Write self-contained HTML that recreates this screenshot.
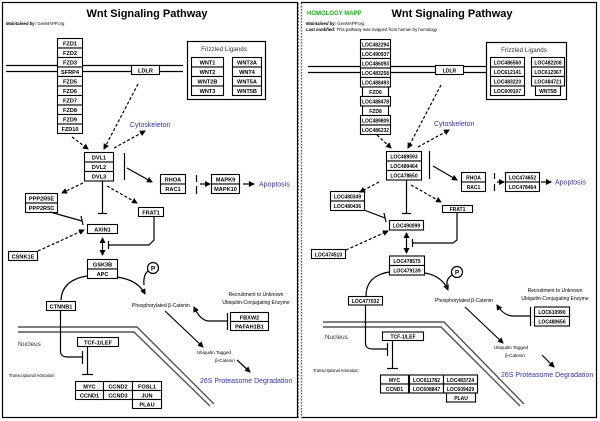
<!DOCTYPE html>
<html><head><meta charset="utf-8"><style>
html,body{margin:0;padding:0;background:#fff;}
svg{display:block;font-family:"Liberation Sans",sans-serif;}
.b rect{fill:#fff;stroke:#000;stroke-width:1.1;}
.b text{font-size:5.6px;font-weight:bold;text-anchor:middle;}
.r text{font-size:5px;}
.s{font-size:5px;}
.blue{fill:#3333aa;font-size:7px;}
.ln{stroke:#000;stroke-width:1.2;fill:none;}
.dl{stroke:#000;stroke-width:1.2;fill:none;stroke-dasharray:3,2;}
.mem{stroke:#000;stroke-width:1.2;}
.nuc{stroke:#555;stroke-width:1.4;fill:none;}
</style></head><body>
<svg width="600" height="421" viewBox="0 0 600 421" xmlns="http://www.w3.org/2000/svg">
<defs>
<marker id="a" markerWidth="6" markerHeight="6" refX="5" refY="3" orient="auto" markerUnits="userSpaceOnUse"><path d="M0,0 L6,3 L0,6 z" fill="#000"/></marker>
<marker id="a2" markerWidth="6" markerHeight="6" refX="1" refY="3" orient="auto" markerUnits="userSpaceOnUse"><path d="M6,0 L0,3 L6,6 z" fill="#000"/></marker>
</defs>
<rect x="0" y="0" width="600" height="421" fill="#fff"/>
<rect x="2.5" y="2.5" width="295" height="415" fill="none" stroke="#000" stroke-width="1.2"/>
<rect x="301.5" y="2.5" width="295" height="415" fill="none" stroke="#000" stroke-width="1.2"/>
<line x1="298" y1="3" x2="298" y2="418" stroke="#000" stroke-dasharray="2,1.5"/>
<line x1="301.5" y1="3" x2="301.5" y2="418" stroke="#fff" stroke-width="1.2"/>
<line x1="301.5" y1="3" x2="301.5" y2="418" stroke="#555" stroke-dasharray="1.5,1.5"/>

<!-- ================= LEFT ================= -->
<text x="147" y="17" font-size="11" font-weight="bold" text-anchor="middle">Wnt Signaling Pathway</text>
<text x="6" y="25" font-size="4.3"><tspan font-weight="bold" font-style="italic">Maintained by:</tspan> GenMAPP.org</text>
<line class="mem" x1="6" y1="65.5" x2="183" y2="65.5"/><line class="mem" x1="6" y1="71.5" x2="183" y2="71.5"/>
<g class="b">
<rect x="57.5" y="38.5" width="25" height="9.5"/><text x="70" y="45.5">FZD1</text>
<rect x="57.5" y="48" width="25" height="9.5"/><text x="70" y="55">FZD2</text>
<rect x="57.5" y="57.5" width="25" height="9.5"/><text x="70" y="64.5">FZD3</text>
<rect x="57.5" y="67" width="25" height="9.5"/><text x="70" y="74">SFRP4</text>
<rect x="57.5" y="76.5" width="25" height="9.5"/><text x="70" y="83.5">FZD5</text>
<rect x="57.5" y="86" width="25" height="9.5"/><text x="70" y="93">FZD6</text>
<rect x="57.5" y="95.5" width="25" height="9.5"/><text x="70" y="102.5">FZD7</text>
<rect x="57.5" y="105" width="25" height="9.5"/><text x="70" y="112">FZD8</text>
<rect x="57.5" y="114.5" width="25" height="9.5"/><text x="70" y="121.5">FZD9</text>
<rect x="57.5" y="124" width="25" height="9.5"/><text x="70" y="131">FZD10</text>
<rect x="131.5" y="65.5" width="28" height="9"/><text x="145.5" y="72.3">LDLR</text>
</g>
<rect x="187.5" y="41.5" width="78" height="58" fill="#fff" stroke="#000" stroke-width="1.2"/>
<text x="224" y="51" font-size="6.3" text-anchor="middle" fill="#333">Frizzled Ligands</text>
<g class="b">
<rect x="191.5" y="57.5" width="32" height="9.5"/><text x="207.5" y="64.5">WNT1</text>
<rect x="191.5" y="67" width="32" height="9.5"/><text x="207.5" y="74">WNT2</text>
<rect x="191.5" y="76.5" width="32" height="9.5"/><text x="207.5" y="83.5">WNT2B</text>
<rect x="191.5" y="86" width="32" height="9.5"/><text x="207.5" y="93">WNT3</text>
<rect x="232.5" y="57.5" width="29" height="9.5"/><text x="247" y="64.5">WNT3A</text>
<rect x="232.5" y="67" width="29" height="9.5"/><text x="247" y="74">WNT4</text>
<rect x="232.5" y="76.5" width="29" height="9.5"/><text x="247" y="83.5">WNT5A</text>
<rect x="232.5" y="86" width="29" height="9.5"/><text x="247" y="93">WNT5B</text>
</g>
<text x="130" y="127" class="blue">Cytoskeleton</text>
<line class="dl" x1="72" y1="137" x2="88" y2="149" marker-end="url(#a)"/>
<line class="dl" x1="138" y1="84" x2="104" y2="149" marker-end="url(#a)"/>
<line class="dl" x1="114" y1="148" x2="145" y2="131" marker-end="url(#a)"/>
<g class="b">
<rect x="84.5" y="152.5" width="29" height="9.5"/><text x="99" y="159.5">DVL1</text>
<rect x="84.5" y="162" width="29" height="9.5"/><text x="99" y="169">DVL2</text>
<rect x="84.5" y="171.5" width="29" height="9.5"/><text x="99" y="178.5">DVL3</text>
</g>
<line class="ln" x1="124.5" y1="153" x2="124.5" y2="180"/>
<line class="ln" x1="127" y1="168" x2="152" y2="182" marker-end="url(#a)"/>
<g class="b">
<rect x="160.5" y="174.5" width="25" height="9.5"/><text x="173" y="181.5">RHOA</text>
<rect x="160.5" y="184" width="25" height="9.5"/><text x="173" y="191">RAC1</text>
<rect x="211.5" y="174.5" width="28" height="9.5"/><text x="225.5" y="181.5">MAPK9</text>
<rect x="211.5" y="184" width="28" height="9.5"/><text x="225.5" y="191">MAPK10</text>
</g>
<line class="ln" x1="196.5" y1="175" x2="196.5" y2="182"/><line class="ln" x1="196.5" y1="186" x2="196.5" y2="194"/>
<line class="ln" x1="200" y1="184" x2="210" y2="184" marker-end="url(#a)"/>
<line class="ln" x1="243" y1="184" x2="254" y2="184" marker-end="url(#a)"/>
<text x="259" y="186.5" class="blue">Apoptosis</text>
<g class="b">
<rect x="25.5" y="193.5" width="32" height="9.5"/><text x="41.5" y="200.5">PPP2R5E</text>
<rect x="25.5" y="203" width="32" height="9.5"/><text x="41.5" y="210">PPP2R5C</text>
<rect x="138.5" y="207.5" width="25" height="9"/><text x="151" y="214.3">FRAT1</text>
<rect x="87.5" y="224.5" width="30" height="9"/><text x="102.5" y="231.3">AXIN1</text>
<rect x="8.5" y="251.5" width="29" height="9"/><text x="23" y="258.3">CSNK1E</text>
<rect x="87.5" y="259.5" width="30" height="9.5"/><text x="102.5" y="266.5">GSK3B</text>
<rect x="87.5" y="269" width="30" height="9.5"/><text x="102.5" y="276">APC</text>
<rect x="46.5" y="301.5" width="29" height="9"/><text x="61" y="308.3">CTNNB1</text>
<rect x="230.5" y="312.5" width="38" height="9"/><text x="249.5" y="319.3">FBXW2</text>
<rect x="230.5" y="321.5" width="38" height="9"/><text x="249.5" y="328.3">PAFAH1B1</text>
<rect x="77.5" y="337.5" width="41" height="9"/><text x="98" y="344.3">TCF-1/LEF</text>
</g>
<line class="dl" x1="83" y1="183" x2="62" y2="193" marker-end="url(#a)"/>
<line class="ln" x1="102.5" y1="181" x2="102.5" y2="213"/><line class="ln" x1="98" y1="213.5" x2="107" y2="213.5"/>
<line class="dl" x1="107" y1="186" x2="137" y2="203" marker-end="url(#a)"/>
<line class="ln" x1="50" y1="212" x2="82" y2="221"/><line class="ln" x1="81" y1="216" x2="83" y2="225"/>
<path class="ln" d="M154,217 V240 L149,245 H108"/><line class="ln" x1="108.5" y1="241" x2="108.5" y2="249"/>
<line class="dl" x1="38" y1="251" x2="84" y2="230" marker-end="url(#a)"/>
<line class="ln" x1="102.5" y1="238" x2="102.5" y2="255" marker-start="url(#a2)" marker-end="url(#a)"/>
<path class="ln" d="M87,276 Q62,280 61,300"/>
<path class="ln" d="M117,277 Q138,280 145,294" marker-end="url(#a)"/>
<circle cx="153" cy="268" r="5.5" fill="#fff" stroke="#000" stroke-width="1.2"/><text x="153" y="270.5" font-size="6.5" font-weight="bold" text-anchor="middle">P</text>
<path class="ln" d="M148,271 Q143,275 144,285"/>
<text x="132" y="307" class="s">Phosphorylated β-Catenin</text>
<text x="256" y="296" class="s" text-anchor="middle">Recruitment to Unknown</text>
<text x="256" y="304" class="s" text-anchor="middle">Ubiquitin-Conjugating Enzyme</text>
<line class="ln" x1="227.5" y1="313" x2="227.5" y2="330"/>
<path class="ln" d="M227,321 H208 Q200,320 194,307" marker-end="url(#a)"/>
<line class="ln" x1="165" y1="311" x2="203" y2="347" marker-end="url(#a)"/>
<text x="214" y="354" font-size="4.6" text-anchor="middle">Ubiquitin Tagged</text>
<text x="225" y="362" font-size="4.6" text-anchor="middle">β-Catenin</text>
<line class="ln" x1="237" y1="360" x2="250" y2="372" marker-end="url(#a)"/>
<text x="200" y="383" class="blue">26S Proteasome Degradation</text>
<path class="nuc" d="M18,327 H137 L214,404"/>
<path class="nuc" d="M18,332 H134 L210,406"/>
<text x="18" y="346" font-size="6.3" fill="#333">Nucleus</text>
<path class="ln" d="M60.5,311 V352 Q61,357 68,357 H82"/><line class="ln" x1="82.5" y1="351" x2="82.5" y2="364"/>
<line class="ln" x1="87.5" y1="347" x2="87.5" y2="374"/><line class="ln" x1="82" y1="374.5" x2="93" y2="374.5"/>
<text x="9" y="377" font-size="4.1">Transcriptional Activation</text>
<g class="b">
<rect x="75.5" y="381.5" width="28" height="9"/><text x="89.5" y="388.3">MYC</text>
<rect x="75.5" y="390.5" width="28" height="9"/><text x="89.5" y="397.3">CCND1</text>
<rect x="103.5" y="381.5" width="29" height="9"/><text x="118" y="388.3">CCND2</text>
<rect x="103.5" y="390.5" width="29" height="9"/><text x="118" y="397.3">CCND3</text>
<rect x="132.5" y="381.5" width="29" height="9"/><text x="147" y="388.3">FOSL1</text>
<rect x="132.5" y="390.5" width="29" height="9"/><text x="147" y="397.3">JUN</text>
<rect x="132.5" y="399.5" width="29" height="9"/><text x="147" y="406.3">PLAU</text>
</g>

<!-- ================= RIGHT ================= -->
<text x="307" y="15" font-size="6" font-weight="bold" fill="#22aa22">HOMOLOGY MAPP</text>
<text x="452" y="17" font-size="11" font-weight="bold" text-anchor="middle">Wnt Signaling Pathway</text>
<text x="306" y="25" font-size="4.3"><tspan font-weight="bold" font-style="italic">Maintained by:</tspan> GenMAPP.org</text>
<text x="306" y="31" font-size="4.3"><tspan font-weight="bold" font-style="italic">Last modified:</tspan> This pathway was mapped from human by homology</text>
<line class="mem" x1="308" y1="66.5" x2="486" y2="66.5"/><line class="mem" x1="308" y1="72.5" x2="486" y2="72.5"/>
<g class="b r">
<rect x="360.5" y="39.5" width="30" height="9.5"/><text x="375.5" y="46.5" textLength="27" lengthAdjust="spacingAndGlyphs">LOC482294</text>
<rect x="360.5" y="49" width="30" height="9.5"/><text x="375.5" y="56" textLength="27" lengthAdjust="spacingAndGlyphs">LOC490937</text>
<rect x="360.5" y="58.5" width="30" height="9.5"/><text x="375.5" y="65.5" textLength="27" lengthAdjust="spacingAndGlyphs">LOC486093</text>
<rect x="360.5" y="68" width="30" height="9.5"/><text x="375.5" y="75" textLength="27" lengthAdjust="spacingAndGlyphs">LOC483258</text>
<rect x="360.5" y="77.5" width="30" height="9.5"/><text x="375.5" y="84.5" textLength="27" lengthAdjust="spacingAndGlyphs">LOC488493</text>
<rect x="362.5" y="87" width="26" height="9.5"/><text x="375.5" y="94">FZD6</text>
<rect x="360.5" y="96.5" width="30" height="9.5"/><text x="375.5" y="103.5" textLength="27" lengthAdjust="spacingAndGlyphs">LOC488478</text>
<rect x="362.5" y="106" width="26" height="9.5"/><text x="375.5" y="113">FZD8</text>
<rect x="360.5" y="115.5" width="30" height="9.5"/><text x="375.5" y="122.5" textLength="27" lengthAdjust="spacingAndGlyphs">LOC489809</text>
<rect x="360.5" y="125" width="30" height="9.5"/><text x="375.5" y="132" textLength="27" lengthAdjust="spacingAndGlyphs">LOC486232</text>
<rect x="435.5" y="65.5" width="28" height="9"/><text x="449.5" y="72.3">LDLR</text>
</g>
<rect x="486.5" y="42.5" width="80" height="57" fill="#fff" stroke="#000" stroke-width="1.2"/>
<text x="524" y="52" font-size="6.3" text-anchor="middle" fill="#333">Frizzled Ligands</text>
<g class="b r">
<rect x="490.5" y="57.5" width="34" height="9.5"/><text x="507.5" y="64.5">LOC486560</text>
<rect x="490.5" y="67" width="34" height="9.5"/><text x="507.5" y="74">LOC612141</text>
<rect x="490.5" y="76.5" width="34" height="9.5"/><text x="507.5" y="83.5">LOC483220</text>
<rect x="490.5" y="86" width="34" height="9.5"/><text x="507.5" y="93">LOC609107</text>
<rect x="531.5" y="57.5" width="33" height="9.5"/><text x="548" y="64.5">LOC482208</text>
<rect x="531.5" y="67" width="33" height="9.5"/><text x="548" y="74">LOC612367</text>
<rect x="531.5" y="76.5" width="33" height="9.5"/><text x="548" y="83.5">LOC484721</text>
<rect x="535.5" y="86" width="25" height="9.5"/><text x="548" y="93">WNT5B</text>
</g>
<text x="434" y="126" class="blue">Cytoskeleton</text>
<line class="dl" x1="377" y1="135" x2="391" y2="148" marker-end="url(#a)"/>
<line class="dl" x1="441" y1="85" x2="408" y2="148" marker-end="url(#a)"/>
<line class="dl" x1="418" y1="147" x2="449" y2="130" marker-end="url(#a)"/>
<g class="b r">
<rect x="386.5" y="151.5" width="35" height="9.5"/><text x="404" y="158.5">LOC489593</text>
<rect x="386.5" y="161" width="35" height="9.5"/><text x="404" y="168">LOC489464</text>
<rect x="386.5" y="170.5" width="35" height="9.5"/><text x="404" y="177.5">LOC478650</text>
</g>
<line class="ln" x1="429.5" y1="151" x2="429.5" y2="179"/>
<line class="ln" x1="433" y1="166" x2="457" y2="180" marker-end="url(#a)"/>
<g class="b r">
<rect x="461.5" y="172.5" width="24" height="9.5"/><text x="473.5" y="179.5">RHOA</text>
<rect x="461.5" y="182" width="24" height="9.5"/><text x="473.5" y="189">RAC1</text>
<rect x="505.5" y="172.5" width="34" height="9.5"/><text x="522.5" y="179.5">LOC474652</text>
<rect x="505.5" y="182" width="34" height="9.5"/><text x="522.5" y="189">LOC478464</text>
</g>
<line class="ln" x1="494.5" y1="173" x2="494.5" y2="179"/><line class="ln" x1="494.5" y1="184" x2="494.5" y2="191"/>
<line class="ln" x1="497" y1="182" x2="504" y2="182" marker-end="url(#a)"/>
<line class="ln" x1="541" y1="182" x2="551" y2="182" marker-end="url(#a)"/>
<text x="555" y="184.5" class="blue">Apoptosis</text>
<g class="b r">
<rect x="330.5" y="191.5" width="34" height="9.5"/><text x="347.5" y="198.5">LOC480349</text>
<rect x="330.5" y="201" width="34" height="9.5"/><text x="347.5" y="208">LOC480436</text>
<rect x="442.5" y="205.5" width="30" height="7"/><text x="457.5" y="211.2">FRAT1</text>
<rect x="389.5" y="220.5" width="34" height="9.5"/><text x="406.5" y="227.5">LOC490099</text>
<rect x="311.5" y="249.5" width="34" height="9"/><text x="328.5" y="256.3">LOC474510</text>
<rect x="389.5" y="256" width="35" height="9.5"/><text x="407" y="263">LOC478575</text>
<rect x="389.5" y="265.5" width="35" height="9.5"/><text x="407" y="272.5">LOC479139</text>
<rect x="348.5" y="296.5" width="34" height="8.5"/><text x="365.5" y="303">LOC477032</text>
<rect x="534.5" y="307" width="35" height="9.5"/><text x="552" y="314">LOC610990</text>
<rect x="534.5" y="316.5" width="35" height="9.5"/><text x="552" y="323.5">LOC480656</text>
<rect x="382.5" y="332" width="41" height="8.5"/><text x="403" y="338.5">TCF-1/LEF</text>
</g>
<line class="dl" x1="379" y1="182" x2="360" y2="192" marker-end="url(#a)"/>
<line class="ln" x1="406.5" y1="180" x2="406.5" y2="213"/><line class="ln" x1="402" y1="213.5" x2="411" y2="213.5"/>
<line class="dl" x1="411" y1="185" x2="441" y2="202" marker-end="url(#a)"/>
<line class="ln" x1="364" y1="210" x2="385" y2="218"/><line class="ln" x1="384" y1="213" x2="386" y2="222"/>
<path class="ln" d="M457,213 V240 L453,243 H412"/><line class="ln" x1="412.5" y1="239" x2="412.5" y2="247"/>
<line class="dl" x1="346" y1="250" x2="388" y2="231" marker-end="url(#a)"/>
<line class="ln" x1="406.5" y1="233" x2="406.5" y2="253" marker-start="url(#a2)" marker-end="url(#a)"/>
<path class="ln" d="M389,272 Q366,276 366,296"/>
<path class="ln" d="M425,273 Q442,276 448,290" marker-end="url(#a)"/>
<circle cx="457" cy="272" r="5.5" fill="#fff" stroke="#000" stroke-width="1.2"/><text x="457" y="274.5" font-size="6.5" font-weight="bold" text-anchor="middle">P</text>
<path class="ln" d="M452,275 Q446,279 447,285"/>
<text x="435" y="302" class="s">Phosphorylated β-Catenin</text>
<text x="555" y="292" class="s" text-anchor="middle">Recruitment to Unknown</text>
<text x="555" y="300" class="s" text-anchor="middle">Ubiquitin-Conjugating Enzyme</text>
<line class="ln" x1="530.5" y1="307" x2="530.5" y2="326"/>
<path class="ln" d="M530,316 H512 Q503,315 497,305" marker-end="url(#a)"/>
<line class="ln" x1="465" y1="307" x2="503" y2="343" marker-end="url(#a)"/>
<text x="511" y="349" font-size="4.6" text-anchor="middle">Ubiquitin Tagged</text>
<text x="515" y="357" font-size="4.6" text-anchor="middle">β-Catenin</text>
<line class="ln" x1="542" y1="355" x2="554" y2="367" marker-end="url(#a)"/>
<text x="501" y="377" class="blue">26S Proteasome Degradation</text>
<path class="nuc" d="M323,322 H444 L524,404"/>
<path class="nuc" d="M323,327 H441 L520,406"/>
<text x="325" y="339" font-size="6.3" fill="#333">Nucleus</text>
<path class="ln" d="M365.5,305 V344 Q366,349 373,349 H387"/><line class="ln" x1="387.5" y1="343" x2="387.5" y2="356"/>
<line class="ln" x1="392.5" y1="341" x2="392.5" y2="368"/><line class="ln" x1="387" y1="368.5" x2="398" y2="368.5"/>
<text x="313" y="372" font-size="4.1">Transcriptional Activation</text>
<g class="b r">
<rect x="380.5" y="375" width="28" height="9"/><text x="394.5" y="381.8">MYC</text>
<rect x="380.5" y="384" width="28" height="9"/><text x="394.5" y="390.8">CCND1</text>
<rect x="409.5" y="375" width="34" height="9"/><text x="426.5" y="381.8">LOC611782</text>
<rect x="409.5" y="384" width="34" height="9"/><text x="426.5" y="390.8">LOC608847</text>
<rect x="443.5" y="375" width="34" height="9"/><text x="460.5" y="381.8">LOC483724</text>
<rect x="443.5" y="384" width="34" height="9"/><text x="460.5" y="390.8">LOC609429</text>
<rect x="446.5" y="393" width="29" height="9"/><text x="461" y="399.8">PLAU</text>
</g>
</svg>
</body></html>
